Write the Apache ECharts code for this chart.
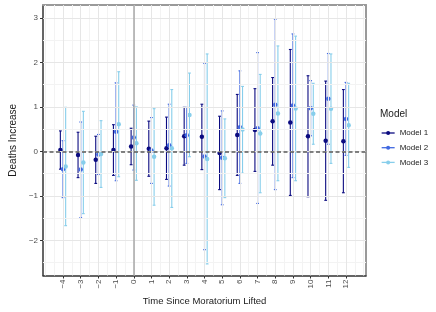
<!DOCTYPE html>
<html><head><meta charset="utf-8">
<script src="https://cdn.jsdelivr.net/npm/echarts@6/dist/echarts.min.js"></script>
<style>html,body{margin:0;padding:0;background:#fff}#c{width:436px;height:312px}</style>
</head><body><div id="c"></div>
<script>
// Data
const categories = [-4,-3,-2,-1,0,1,2,3,4,5,6,7,8,9,10,11,12];
const modelNames = ['Model 1','Model 2','Model 3'];
const model1Est = [0.03,-0.08,-0.19,0.03,0.11,0.06,0.07,0.34,0.33,-0.035,0.37,0.48,0.675,0.65,0.34,0.24,0.23];
const model1Lo  = [-0.40,-0.59,-0.72,-0.54,-0.30,-0.56,-0.63,-0.31,-0.41,-0.86,-0.54,-0.45,-0.31,-0.99,-1.02,-1.10,-0.93];
const model1Hi  = [0.46,0.43,0.34,0.60,0.52,0.68,0.77,0.99,1.06,0.79,1.28,1.41,1.66,2.29,1.70,1.58,1.39];
const model2Est = [-0.40,-0.41,-0.07,0.44,0.31,0.02,0.14,0.36,-0.115,-0.145,0.545,0.52,1.05,1.03,0.97,1.18,0.73];
const model2Lo  = [-1.04,-1.49,-0.52,-0.66,-0.42,-0.72,-0.78,-0.27,-2.21,-1.20,-0.72,-1.17,-0.86,-0.59,0.35,0.16,-0.09];
const model2Hi  = [0.24,0.66,0.38,1.54,1.04,0.76,1.06,0.99,1.98,0.91,1.81,2.22,2.97,2.64,1.59,2.20,1.55];
const model3Est = [-0.34,-0.25,-0.06,0.61,0.18,-0.12,0.07,0.82,-0.17,-0.155,0.49,0.40,0.85,0.965,0.845,0.96,0.585];
const model3Lo  = [-1.67,-1.40,-0.81,-0.57,-0.65,-1.21,-1.26,-0.12,-2.53,-1.04,-0.49,-0.93,-0.66,-0.66,0.16,-0.27,-0.36];
const model3Hi  = [0.99,0.90,0.69,1.79,1.00,0.96,1.39,1.76,2.19,0.73,1.46,1.73,2.37,2.59,1.53,2.19,1.53];
// Ticks / grid breaks
const xTicks = [-4,-3,-2,-1,0,1,2,3,4,5,6,7,8,9,10,11,12];
const xMinor = [-5,-4.5,-3.5,-2.5,-1.5,-0.5,0.5,1.5,2.5,3.5,4.5,5.5,6.5,7.5,8.5,9.5,10.5,11.5,12.5,13];
const yTicks = [-2,-1,0,1,2,3];
const yMinor = [-2.5,-1.5,-0.5,0.5,1.5,2.5];

const colors = ['#0b0b80','#4169E1','#87CEEB'];
const dodge = [-0.15, 0, 0.15];
const ests = [model1Est, model2Est, model3Est];
const los = [model1Lo, model2Lo, model3Lo];
const his = [model1Hi, model2Hi, model3Hi];
const FONT = '"Liberation Sans", Arial, Helvetica, sans-serif';
const X_MIN = -5.13, X_MAX = 13.13, Y_MIN = -2.79, Y_MAX = 3.29;
const fmt = v => String(v).replace('-', '\u2212');

const chart = echarts.init(document.getElementById('c'), null, {renderer: 'canvas'});

function gridSeries(name, xs, ys, color, z) {
  const data = [];
  xs.forEach(v => data.push({xAxis: v}));
  ys.forEach(v => data.push({yAxis: v}));
  return {
    type: 'line', name: name, data: [], z: z, silent: true,
    markLine: {silent: true, symbol: ['none','none'], label: {show: false},
      lineStyle: {color: color, width: 1, type: 'solid'}, data: data, animation: false}
  };
}

const series = [];
series.push(gridSeries('_minor', xMinor, yMinor, '#f3f3f3', 0));
series.push(gridSeries('_major', xTicks, yTicks, '#e6e6e6', 0.5));
series.push({
  type: 'line', name: '_ref', data: [], z: 1, silent: true,
  markLine: {silent: true, symbol: ['none','none'], label: {show: false}, animation: false,
    data: [
      {xAxis: 0, lineStyle: {color: '#a8a8a8', width: 1.5, type: 'solid'}},
      {yAxis: 0, lineStyle: {color: '#5a5a5a', width: 1.5, type: [4, 2.5]}}
    ]}
});
modelNames.forEach((name, k) => {
  series.push({
    type: 'line', name: name, z: 4, silent: true,
    symbol: 'circle', symbolSize: 4.5, showSymbol: true,
    lineStyle: {width: 0, opacity: 0},
    itemStyle: {color: colors[k]},
    data: categories.map((c, i) => [c + dodge[k], ests[k][i]])
  });
});
modelNames.forEach((name, k) => {
  series.push({
    type: 'custom', name: name, z: 3, silent: true,
    data: categories.map((c, i) => [c, los[k][i], his[k][i]]),
    encode: {x: 0, y: [1, 2]},
    renderItem: function (params, api) {
      const x = api.value(0) + dodge[k];
      const top = api.coord([x, api.value(2)]);
      const bot = api.coord([x, api.value(1)]);
      const cw = 1.4;
      const st = {stroke: colors[k], lineWidth: 1.1};
      return {type: 'group', children: [
        {type: 'line', shape: {x1: top[0], y1: top[1], x2: bot[0], y2: bot[1]}, style: st},
        {type: 'line', shape: {x1: top[0]-cw, y1: top[1], x2: top[0]+cw, y2: top[1]}, style: st},
        {type: 'line', shape: {x1: bot[0]-cw, y1: bot[1], x2: bot[0]+cw, y2: bot[1]}, style: st}
      ]};
    }
  });
});

chart.setOption({
  animation: false,
  textStyle: {fontFamily: FONT},
  grid: {left: 35, top: 5, right: 70, bottom: 36.5, containLabel: false},
  title: {text: 'Model', left: 380, top: 109, padding: 0,
    textStyle: {fontFamily: FONT, fontSize: 10, fontWeight: 'normal', color: '#1a1a1a'}},
  legend: {
    data: modelNames, orient: 'vertical', left: 381, top: 128, padding: 0,
    itemWidth: 13, itemHeight: 5, itemGap: 4.7, selectedMode: false,
    lineStyle: {width: 1.3, opacity: 1},
    textStyle: {fontFamily: FONT, fontSize: 8, color: '#1a1a1a', lineHeight: 10}
  },
  xAxis: [{
    type: 'value', position: 'bottom', min: X_MIN, max: X_MAX,
    name: 'Time Since Moratorium Lifted', nameLocation: 'middle', nameGap: 20,
    nameTextStyle: {fontFamily: FONT, fontSize: 9.5, color: '#1a1a1a'},
    axisLine: {show: true, onZero: false, lineStyle: {color: '#333', width: 1.5}},
    axisTick: {show: true, customValues: xTicks, length: 3, lineStyle: {color: '#333', width: 1}},
    axisLabel: {show: true, customValues: xTicks, rotate: 90, margin: 4, fontSize: 8, color: '#4d4d4d', fontFamily: FONT, formatter: fmt},
    splitLine: {show: false}
  }, {
    type: 'value', position: 'top', min: X_MIN, max: X_MAX,
    axisLine: {show: true, onZero: false, lineStyle: {color: '#9a9a9a', width: 2}},
    axisTick: {show: false}, axisLabel: {show: false}, splitLine: {show: false}
  }],
  yAxis: [{
    type: 'value', position: 'left', min: Y_MIN, max: Y_MAX,
    name: 'Deaths Increase', nameLocation: 'middle', nameGap: 22.5, nameRotate: 90,
    nameTextStyle: {fontFamily: FONT, fontSize: 10, color: '#1a1a1a'},
    axisLine: {show: true, onZero: false, lineStyle: {color: '#333', width: 1.5}},
    axisTick: {show: true, customValues: yTicks, length: 3, lineStyle: {color: '#333', width: 1}},
    axisLabel: {show: true, customValues: yTicks, margin: 5, fontSize: 8, color: '#4d4d4d', fontFamily: FONT, formatter: fmt},
    splitLine: {show: false}
  }, {
    type: 'value', position: 'right', min: Y_MIN, max: Y_MAX,
    axisLine: {show: true, onZero: false, lineStyle: {color: '#9a9a9a', width: 2}},
    axisTick: {show: false}, axisLabel: {show: false}, splitLine: {show: false}
  }],
  series: series
});
</script></body></html>
